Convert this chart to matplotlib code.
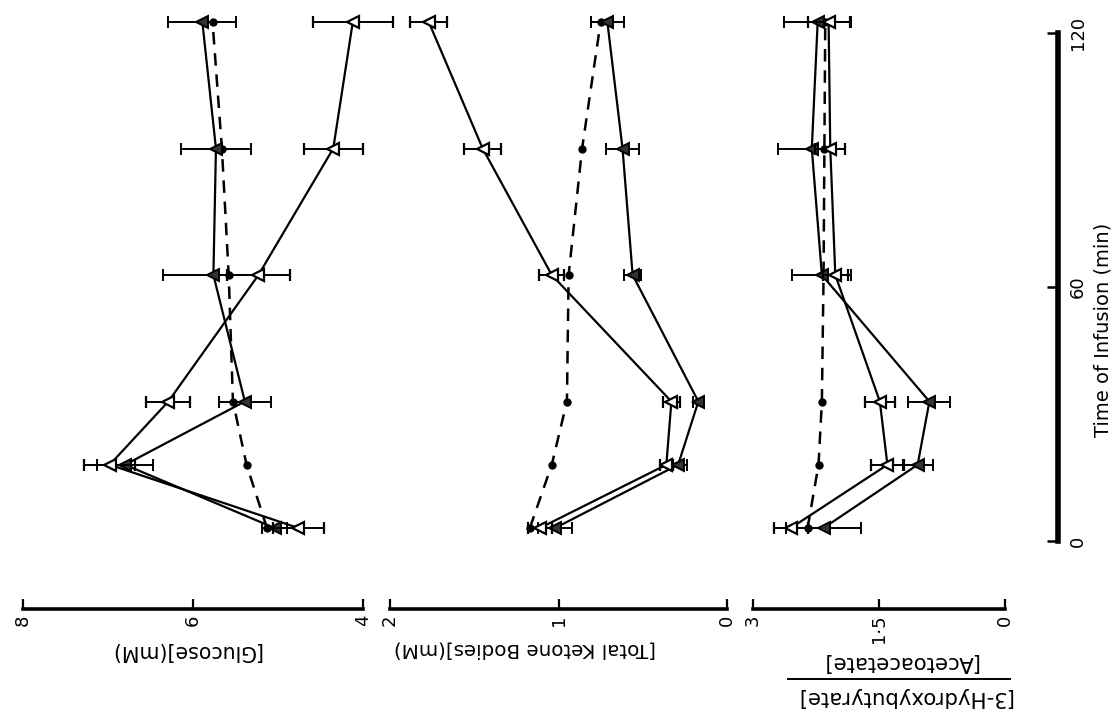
" glucose, ketone bodies and ketone ratio during infusion (rotated layout) "
import matplotlib
matplotlib.use("Agg")
import matplotlib.pyplot as plt
from matplotlib.lines import Line2D

plt.rcParams.update({'font.family': ['DejaVu Sans'], 'font.size': 13})

# sampling times (min)
times = [0, 15, 30, 60, 90, 120]

# [Glucose] (mM)
glc_open = [4.76, 6.98, 6.29, 5.23, 4.35, 4.12]
glc_open_err = [0.30, 0.30, 0.26, 0.37, 0.35, 0.47]
glc_fill = [5.04, 6.80, 5.39, 5.76, 5.73, 5.89]
glc_fill_err = [0.15, 0.33, 0.31, 0.59, 0.41, 0.40]
glc_ctrl = [5.13, 5.37, 5.53, 5.58, 5.66, 5.77]

# [Total Ketone Bodies] (mM)
kb_open = [1.11, 0.36, 0.33, 1.04, 1.45, 1.77]
kb_open_err = [0.07, 0.04, 0.05, 0.075, 0.11, 0.11]
kb_fill = [1.02, 0.29, 0.17, 0.56, 0.62, 0.71]
kb_fill_err = [0.10, 0.05, 0.03, 0.05, 0.10, 0.10]
kb_ctrl = [1.17, 1.04, 0.95, 0.94, 0.86, 0.75]

# [3-Hydroxybutyrate]/[Acetoacetate]
rat_open = [2.55, 1.40, 1.49, 2.02, 2.08, 2.10]
rat_open_err = [0.20, 0.20, 0.18, 0.15, 0.18, 0.25]
rat_fill = [2.16, 1.04, 0.90, 2.18, 2.30, 2.23]
rat_fill_err = [0.45, 0.18, 0.25, 0.35, 0.40, 0.40]
rat_ctrl = [2.35, 2.22, 2.18, 2.16, 2.15, 2.14]

W, H = 1117, 718
fig = plt.figure(figsize=(W / 100, H / 100), dpi=100)


def px_axes(x0, x1, y0, y1):
    " add axes from pixel box (origin top-left) "
    return fig.add_axes([x0 / W, 1 - y1 / H, (x1 - x0) / W, (y1 - y0) / H])


# time runs upwards: t=0 at y=528px, t=120 at y=22px
pxmin = (528 - 22) / 120.0
tlim = ((528 - 609) / pxmin, 528 / pxmin)


def panel(x0, x1, lim, ticks, ticklabels, series):
    ax = px_axes(x0, x1, 0, 609)
    ax.set_xlim(lim)
    ax.set_ylim(tlim)
    ax.patch.set_visible(False)
    for s in ["top", "left", "right"]:
        ax.spines[s].set_visible(False)
    ax.spines["bottom"].set_linewidth(2.6)
    ax.set_yticks([])
    ax.set_xticks(ticks)
    ax.set_xticklabels(ticklabels)
    ax.tick_params(axis="x", direction="in", length=7, width=1.6,
                   labelrotation=90, labelsize=13, pad=4)
    openv, openerr, fillv, fillerr, ctrl = series
    ax.plot(ctrl, times, color="k", lw=1.8, ls=(0, (5, 3.5)),
            marker="o", ms=5, clip_on=False, zorder=3)
    ax.errorbar(fillv, times, xerr=fillerr, color="k", lw=1.6,
                marker="<", ms=8.5, mfc="#333333", mec="k", mew=1.4,
                elinewidth=1.4, capsize=4, capthick=1.4, clip_on=False,
                zorder=4)
    ax.errorbar(openv, times, xerr=openerr, color="k", lw=1.6,
                marker="<", ms=8.5, mfc="white", mec="k", mew=1.6,
                elinewidth=1.4, capsize=4, capthick=1.4, clip_on=False,
                zorder=5)
    return ax


panel(23, 363, (8, 4), [8, 6, 4], ["8", "6", "4"],
      (glc_open, glc_open_err, glc_fill, glc_fill_err, glc_ctrl))
panel(390, 727, (2, 0), [2, 1, 0], ["2", "1", "0"],
      (kb_open, kb_open_err, kb_fill, kb_fill_err, kb_ctrl))
panel(753, 1005, (3, 0), [3, 1.5, 0], ["3", "1·5", "0"],
      (rat_open, rat_open_err, rat_fill, rat_fill_err, rat_ctrl))

# value-axis titles, upside down
fig.text(186 / W, 1 - 651 / H, "[Glucose](mM)", rotation=180,
         ha="center", va="center", fontsize=14.8)
fig.text(525 / W, 1 - 649 / H, "[Total Ketone Bodies](mM)", rotation=180,
         ha="center", va="center", fontsize=14.3)
fig.text(900 / W, 1 - 662 / H, "[Acetoacetate]", rotation=180,
         ha="center", va="center", fontsize=15.3)
fig.text(904 / W, 1 - 697 / H, "[3-Hydroxybutyrate]", rotation=180,
         ha="center", va="center", fontsize=15.3)
fig.add_artist(Line2D([788 / W, 1010 / W], [1 - 679 / H, 1 - 679 / H],
                      color="k", lw=1.4))

# time axis on the right
axt = px_axes(1000, 1058, 33, 541)
axt.set_ylim(0, 120)
axt.patch.set_visible(False)
for s in ["top", "left", "bottom"]:
    axt.spines[s].set_visible(False)
axt.spines["right"].set_linewidth(4)
axt.set_xticks([])
axt.yaxis.tick_right()
axt.set_yticks([0, 60, 120])
axt.tick_params(axis="y", direction="in", length=8, width=1.8,
                labelrotation=90, labelsize=13, pad=8)
for lab in axt.get_yticklabels():
    lab.set_va("center")
    lab.set_ha("left")
fig.text(1103 / W, 1 - 330 / H, "Time of Infusion (min)", rotation=90,
         ha="center", va="center", fontsize=14)

fig.savefig("out.png", dpi=100)
